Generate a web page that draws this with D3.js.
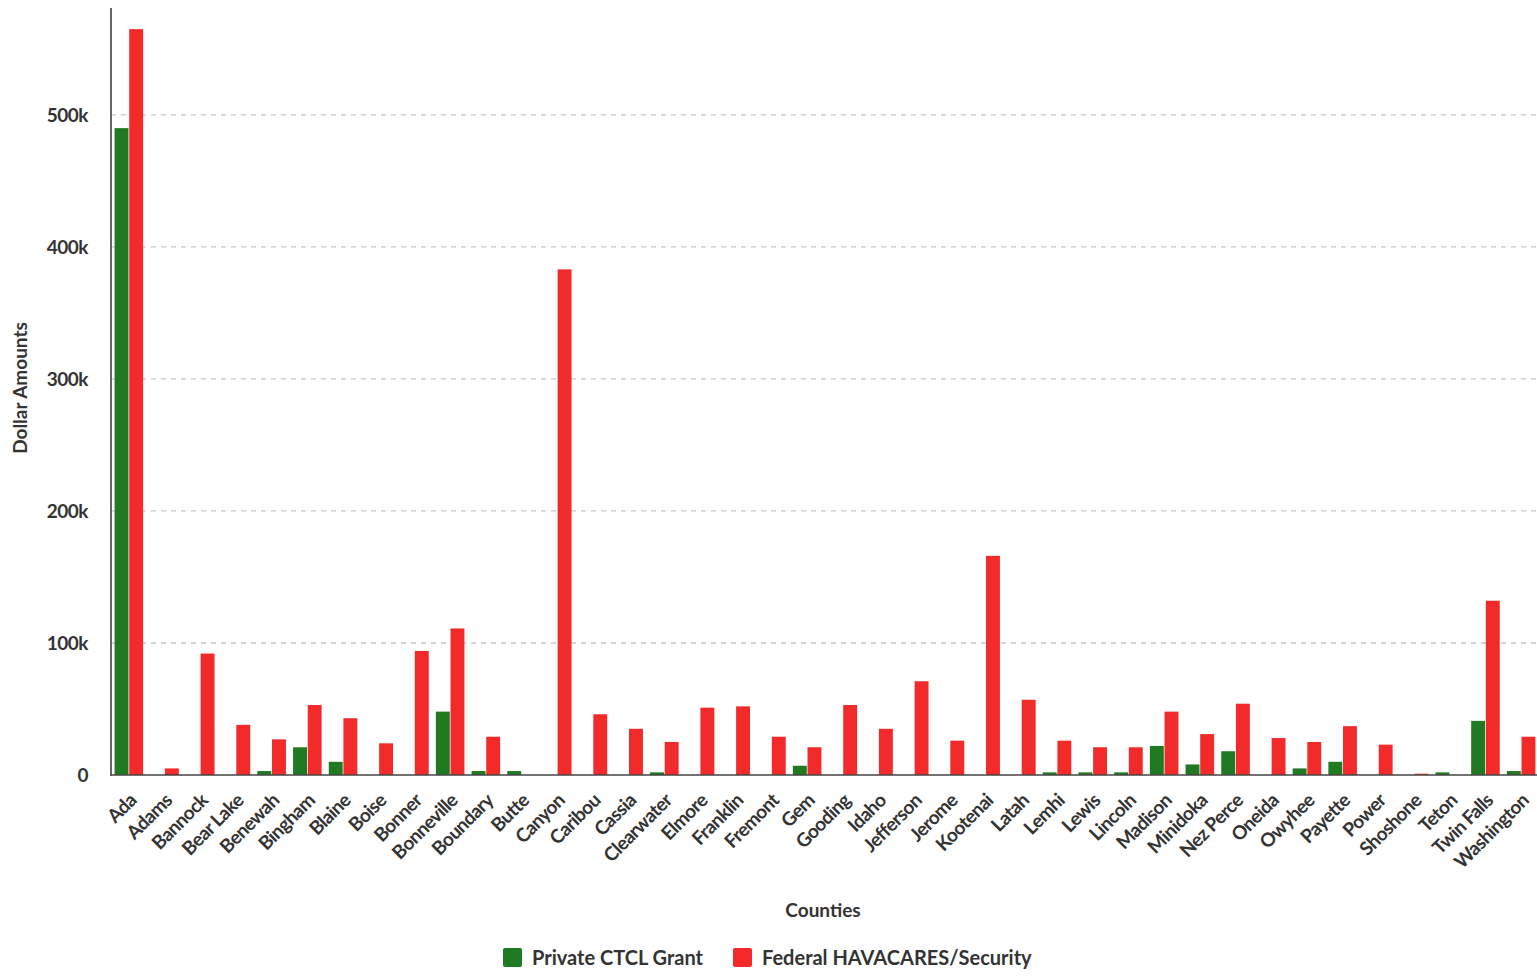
<!DOCTYPE html>
<html><head><meta charset="utf-8">
<script src="https://cdn.jsdelivr.net/npm/d3@7"></script>
<style>body{margin:0;background:#fff;} svg{display:block;font-family:Lato,"Open Sans",sans-serif;}</style>
</head><body>
<svg id="c" width="1537" height="979"></svg>
<script>
const counties = ["Ada","Adams","Bannock","Bear Lake","Benewah","Bingham","Blaine","Boise","Bonner","Bonneville","Boundary","Butte","Canyon","Caribou","Cassia","Clearwater","Elmore","Franklin","Fremont","Gem","Gooding","Idaho","Jefferson","Jerome","Kootenai","Latah","Lemhi","Lewis","Lincoln","Madison","Minidoka","Nez Perce","Oneida","Owyhee","Payette","Power","Shoshone","Teton","Twin Falls","Washington"];
const privateCTCL = [490000,0,0,0,3000,21000,10000,0,0,48000,3000,3000,0,0,0,2000,0,0,0,7000,0,0,0,0,0,0,2000,2000,2000,22000,8000,18000,0,5000,10000,0,0,2000,41000,3000];
const federalHAVA = [565000,5000,92000,38000,27000,53000,43000,24000,94000,111000,29000,0,383000,46000,35000,25000,51000,52000,29000,21000,53000,35000,71000,26000,166000,57000,26000,21000,21000,48000,31000,54000,28000,25000,37000,23000,1000,0,132000,29000];
const seriesNames = ["Private CTCL Grant","Federal HAVACARES/Security"];
const seriesColors = ["#1f7a22","#f22a2a"];
const yTicks = [0,100000,200000,300000,400000,500000];
const yTickLabels = ["0","100k","200k","300k","400k","500k"];

const svg = d3.select("#c");
const L = 111, R = 1539, T = 8, B = 775;
const x0 = d3.scaleBand().domain(counties).range([L, R]).paddingInner(0.2).paddingOuter(0.1);
const x1 = d3.scaleBand().domain([0,1]).range([0, x0.bandwidth()]).paddingInner(0.05);
const y = d3.scaleLinear().domain([0, 581000]).range([B, T]);

// gridlines
svg.append("g").selectAll("line").data(yTicks.filter(d=>d>0)).join("line")
  .attr("x1", L).attr("x2", 1537).attr("y1", d=>y(d)).attr("y2", d=>y(d))
  .attr("stroke", "#c8c8c8").attr("stroke-width", 1.3).attr("stroke-dasharray", "5,5");

// y tick labels
svg.append("g").selectAll("text").data(yTicks).join("text")
  .attr("x", 88).attr("y", d=>y(d)).attr("dy", "0.35em").attr("text-anchor", "end")
  .attr("font-size", 19).attr("font-weight", "bold").attr("fill", "#333")
  .attr("letter-spacing", "-0.5")
  .text((d,i)=>yTickLabels[i]);

// bars
const data = counties.map((c,i)=>({c, v:[privateCTCL[i], federalHAVA[i]]}));
const groups = svg.append("g").selectAll("g").data(data).join("g")
  .attr("transform", d=>`translate(${x0(d.c)},0)`);
groups.selectAll("rect").data(d=>d.v.map((v,k)=>({v,k}))).join("rect")
  .attr("x", d=>x1(d.k)).attr("width", x1.bandwidth())
  .attr("y", d=>y(d.v)).attr("height", d=>B - y(d.v))
  .attr("fill", d=>seriesColors[d.k]);

// axes lines
svg.append("line").attr("x1", L).attr("x2", L).attr("y1", T).attr("y2", B+1)
  .attr("stroke", "#333").attr("stroke-width", 1.5);
svg.append("line").attr("x1", L).attr("x2", 1537).attr("y1", B).attr("y2", B)
  .attr("stroke", "#444").attr("stroke-width", 1.5);

// x labels
svg.append("g").selectAll("text").data(counties).join("text")
  .attr("transform", d=>`translate(${x0(d)+x0.bandwidth()/2+4},${B+22}) rotate(-45)`)
  .attr("text-anchor", "end").attr("dy", "0.35em")
  .attr("font-size", 19).attr("font-weight", "bold").attr("fill", "#333")
  .attr("letter-spacing", "-0.6")
  .text(d=>d);

// axis titles
svg.append("text").attr("x", 823).attr("y", 917).attr("text-anchor", "middle")
  .attr("font-size", 19).attr("font-weight", "bold").attr("fill", "#333").text("Counties");
svg.append("text").attr("transform", "translate(27,388) rotate(-90)").attr("text-anchor", "middle")
  .attr("font-size", 19).attr("font-weight", "bold").attr("fill", "#333").text("Dollar Amounts");

// legend
const leg = svg.append("g");
const legX = [503, 733];
seriesNames.forEach((n,k)=>{
  leg.append("rect").attr("x", legX[k]).attr("y", 948).attr("width", 19).attr("height", 19).attr("rx", 2)
    .attr("fill", seriesColors[k]);
  leg.append("text").attr("x", legX[k]+29).attr("y", 958).attr("dy", "0.35em")
    .attr("font-size", 20).attr("font-weight", "bold").attr("fill", "#333").text(n);
});
</script>
</body></html>
